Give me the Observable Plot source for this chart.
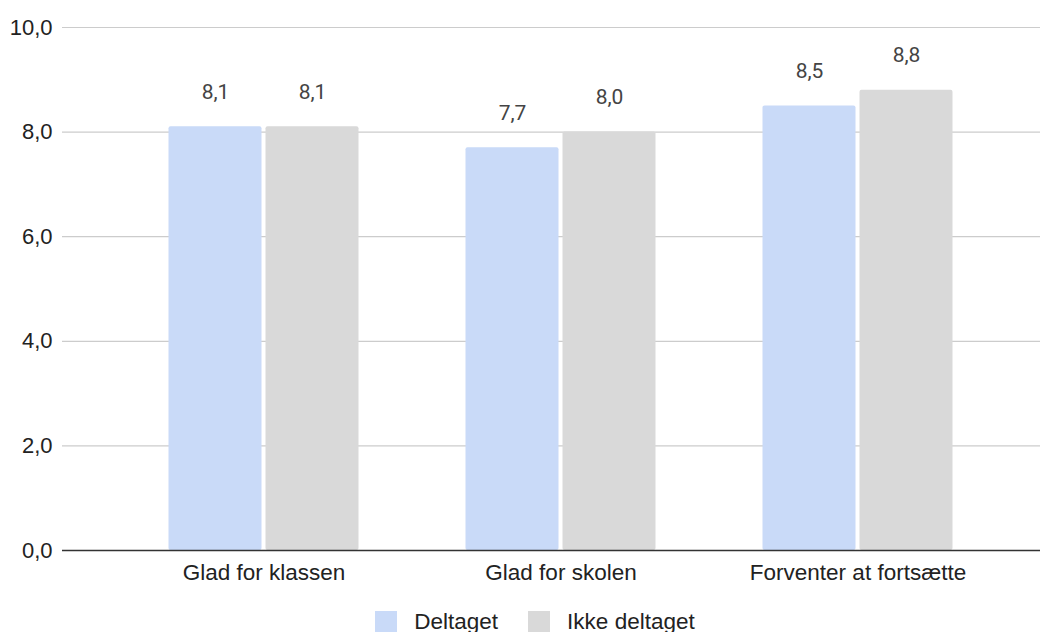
<!DOCTYPE html>
<html>
<head>
<meta charset="utf-8">
<script src="https://cdn.jsdelivr.net/npm/d3@7"></script>
<script src="https://cdn.jsdelivr.net/npm/@observablehq/plot@0.6"></script>
<style>
  html, body { margin: 0; padding: 0; background: #fff; }
  #chart { width: 1044px; }
  .legend { display: flex; justify-content: center; gap: 30px; font-family: "Liberation Sans", Arial, sans-serif; font-size: 22.5px; color: #222; height: 37px; align-items: flex-end; padding-left: 26px; }
  .legend span.item { display: flex; align-items: center; gap: 17px; }
  .legend span.sw { display: inline-block; width: 22px; height: 22px; }
</style>
</head>
<body>
<div id="chart"></div>
<script>
const categories = ["Glad for klassen", "Glad for skolen", "Forventer at fortsætte"];
const seriesNames = ["Deltaget", "Ikke deltaget"];
const deltaget = [8.1, 7.7, 8.5];
const ikkeDeltaget = [8.1, 8.0, 8.8];
const colors = ["#c9daf8", "#d9d9d9"];
const yTicks = [0, 2, 4, 6, 8, 10];

const fmt = d => d.toFixed(1).replace(".", ",");

const rowsA = categories.map((c, i) => ({category: c, series: seriesNames[0], value: deltaget[i]}));
const rowsB = categories.map((c, i) => ({category: c, series: seriesNames[1], value: ikkeDeltaget[i]}));

const inset = 102;
const off = 48.5;

const chart = Plot.plot({
  width: 1044,
  height: 598,
  marginLeft: 62,
  marginRight: 4,
  marginTop: 27,
  marginBottom: 48,
  style: {fontFamily: "'Liberation Sans', Arial, sans-serif", fontSize: "22px", color: "#222", background: "#fff"},
  x: {domain: categories, range: [114, 1007], padding: 0, label: null},
  y: {domain: [0, 10], label: null},
  color: {domain: seriesNames, range: colors},
  marks: [
    Plot.ruleY(yTicks.filter(t => t > 0), {stroke: "#cccccc", strokeWidth: 1.2, strokeOpacity: 1}),
    Plot.barY(rowsA, {x: "category", y: "value", fill: "series", dx: -off, insetLeft: inset, insetRight: inset, rx: 2}),
    Plot.barY(rowsB, {x: "category", y: "value", fill: "series", dx: off, insetLeft: inset, insetRight: inset, rx: 2}),
    Plot.text(rowsA, {x: "category", y: "value", text: d => fmt(d.value), dx: -off, dy: -35, fontFamily: "Roboto, sans-serif", fontSize: 21, fill: "#444"}),
    Plot.text(rowsB, {x: "category", y: "value", text: d => fmt(d.value), dx: off, dy: -35, fontFamily: "Roboto, sans-serif", fontSize: 21, fill: "#444"}),
    Plot.ruleY([0], {stroke: "#333", strokeWidth: 1.6}),
    Plot.axisY({ticks: yTicks, tickFormat: fmt, tickSize: 0, tickPadding: 10, label: null, fill: "#222", fontSize: 22}),
    Plot.axisX({tickSize: 0, tickPadding: 14, label: null, fill: "#222", fontSize: 22.5})
  ]
});
document.getElementById("chart").appendChild(chart);

const legend = document.createElement("div");
legend.className = "legend";
seriesNames.forEach((s, i) => {
  const item = document.createElement("span");
  item.className = "item";
  const sw = document.createElement("span");
  sw.className = "sw";
  sw.style.background = colors[i];
  const t = document.createElement("span");
  t.textContent = s;
  item.appendChild(sw);
  item.appendChild(t);
  legend.appendChild(item);
});
document.body.appendChild(legend);
</script>
</body>
</html>
